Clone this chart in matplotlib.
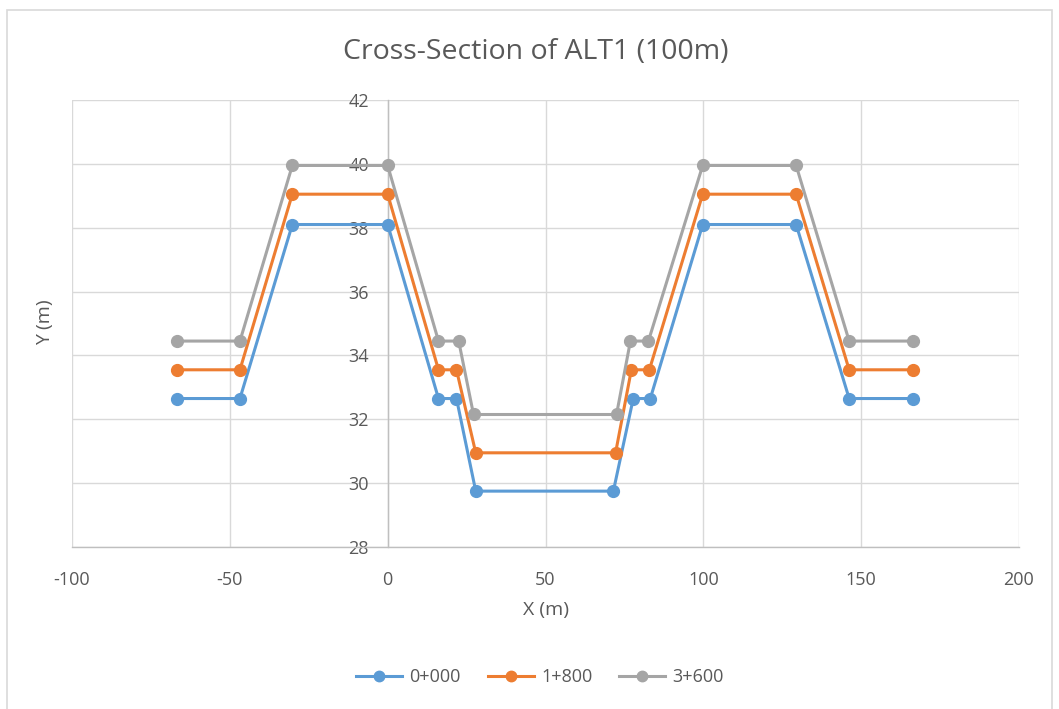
import matplotlib
matplotlib.use("Agg")
import matplotlib.pyplot as plt
from matplotlib.patches import Rectangle

plt.rcParams['font.family'] = ['Open Sans', 'DejaVu Sans']
plt.rcParams['axes.unicode_minus'] = False

series_names = ["0+000", "1+800", "3+600"]
series_colors = ["#5B9BD5", "#ED7D31", "#A5A5A5"]

x_0000 = [-66.8, -46.8, -30.2, 0.0, 16.1, 21.8, 27.9, 71.5, 77.8, 83.2, 99.8, 129.4, 146.2, 166.5]
y_0000 = [32.65, 32.65, 38.1, 38.1, 32.65, 32.65, 29.75, 29.75, 32.65, 32.65, 38.1, 38.1, 32.65, 32.65]

x_1800 = [-66.8, -46.8, -30.2, 0.0, 16.1, 21.8, 27.9, 72.2, 77.2, 82.9, 99.8, 129.4, 146.2, 166.5]
y_1800 = [33.55, 33.55, 39.05, 39.05, 33.55, 33.55, 30.95, 30.95, 33.55, 33.55, 39.05, 39.05, 33.55, 33.55]

x_3600 = [-66.8, -46.8, -30.2, 0.0, 16.1, 22.5, 27.2, 72.5, 76.9, 82.6, 99.8, 129.4, 146.2, 166.5]
y_3600 = [34.45, 34.45, 39.95, 39.95, 34.45, 34.45, 32.15, 32.15, 34.45, 34.45, 39.95, 39.95, 34.45, 34.45]

x_ticks = [-100, -50, 0, 50, 100, 150, 200]
y_ticks = [28, 30, 32, 34, 36, 38, 40, 42]

text_color = "#595959"
grid_color = "#D9D9D9"

fig = plt.figure(figsize=(10.59, 7.09), dpi=100)

# chart frame
fig.patches.append(Rectangle((7 / 1059, -0.05), (1052 - 7) / 1059, 1 - 10 / 709 + 0.05,
                             transform=fig.transFigure, fill=False,
                             edgecolor="#D9D9D9", linewidth=1.2))

ax = fig.add_axes([72 / 1059, 1 - 547 / 709, (1019 - 72) / 1059, (547 - 100) / 709])

for xs, ys, name, col in zip([x_0000, x_1800, x_3600], [y_0000, y_1800, y_3600],
                             series_names, series_colors):
    ax.plot(xs, ys, color=col, linewidth=2.2, marker="o", markersize=8.5,
            markerfacecolor=col, markeredgecolor=col, label=name, zorder=3)

ax.set_xlim(-100, 200)
ax.set_ylim(28, 42)
ax.set_xticks(x_ticks)
ax.set_yticks(y_ticks)
ax.grid(True, color=grid_color, linewidth=1.0, zorder=0)
ax.set_axisbelow(True)

for s in ["top", "right"]:
    ax.spines[s].set_visible(False)
ax.spines["left"].set_position(("data", 0))
ax.spines["left"].set_color("#BFBFBF")
ax.spines["bottom"].set_color("#BFBFBF")
ax.spines["left"].set_linewidth(1.0)
ax.spines["bottom"].set_linewidth(1.0)

ax.tick_params(axis="both", length=0, labelsize=13, labelcolor=text_color)
ax.tick_params(axis="x", pad=17)
ax.tick_params(axis="y", pad=13.5)
for lbl in ax.get_yticklabels():
    lbl.set_zorder(5)

fig.text(536 / 1059, 1 - 52 / 709, "Cross-Section of ALT1 (100m)", ha="center", va="center",
         fontsize=20.5, color=text_color)
fig.text(546 / 1059, 1 - 610 / 709, "X (m)", ha="center", va="center",
         fontsize=14, color=text_color)
fig.text(45 / 1059, 1 - 322 / 709, "Y (m)", ha="center", va="center",
         rotation=90, fontsize=14, color=text_color)

leg = fig.legend(loc="center", bbox_to_anchor=(540 / 1059, 1 - 677 / 709), ncol=3,
                 frameon=False, fontsize=13, handlelength=2.55, handletextpad=0.4,
                 columnspacing=1.5, labelcolor=text_color)
for h in leg.legend_handles:
    h.set_markersize(7.5)

fig.savefig("out.png", dpi=100)
